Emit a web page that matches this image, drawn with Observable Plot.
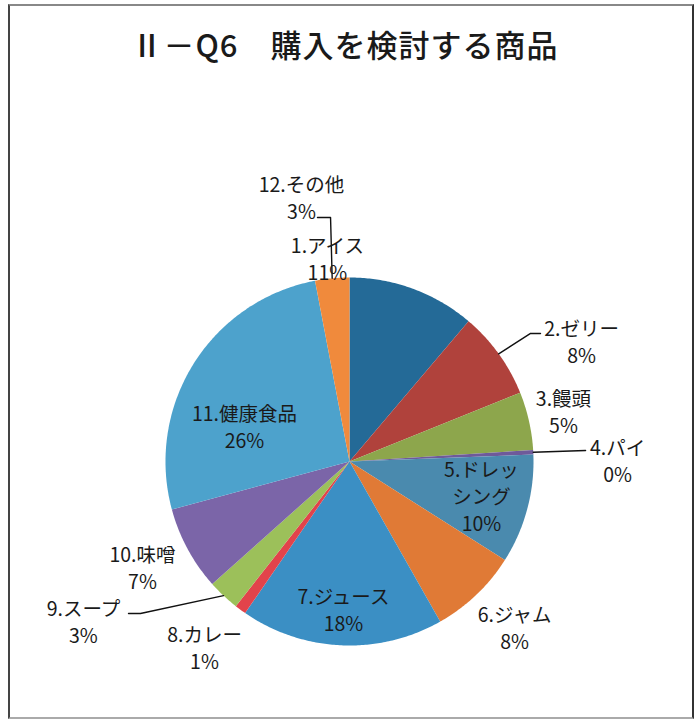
<!DOCTYPE html>
<html><head><meta charset="utf-8">
<script src="https://cdn.jsdelivr.net/npm/d3@7"></script>
<script src="https://cdn.jsdelivr.net/npm/@observablehq/plot@0.6"></script>
<style>
body{margin:0;background:#fff;}
#wrap{position:relative;width:696px;height:720px;overflow:hidden;font-family:"Noto Sans CJK JP",sans-serif;}
#wrap svg{position:absolute;left:0;top:0;}
#frame{position:absolute;left:8px;top:4px;width:682px;height:711px;border-left:2px solid #444;border-right:2px solid #333;border-top:2px solid #888;border-bottom:2px solid #aaa;pointer-events:none}
#title{position:absolute;top:23px;left:0;width:690px;text-align:center;font-size:31px;font-weight:500;color:#1a1a1a;line-height:42px;letter-spacing:1px}
</style></head>
<body><div id="wrap"></div>
<script>
// ---- data ----
const names = ["1.アイス","2.ゼリー","3.饅頭","4.パイ","5.ドレッシング","6.ジャム","7.ジュース","8.カレー","9.スープ","10.味噌","11.健康食品","12.その他"];
const values = [11.2, 7.7, 5.1, 0.4, 9.6, 7.8, 17.8, 1.0, 2.8, 7.4, 26.2, 3.0];
const labelNames = ["1.アイス","2.ゼリー","3.饅頭","4.パイ","5.ドレッ\nシング","6.ジャム","7.ジュース","8.カレー","9.スープ","10.味噌","11.健康食品","12.その他"];
const colors = ["#246a97","#b0423c","#8da64c","#6e5a9a","#4a8aae","#e07a36","#3b8fc4","#e2434b","#9cc05a","#7b65a8","#4da2cc","#f08a3c"];
const title = "Ⅱ－Q6　購入を検討する商品";

// ---- layout (label anchors in pie-radius units, leader-line elbows) ----
const labelPos = [[-0.120,1.106],[1.261,0.655],[1.163,0.277],[1.457,0.008],[0.717,-0.185],[0.897,-0.899],[-0.033,-0.802],[-0.788,-1.008],[-1.446,-0.867],[-1.125,-0.573],[-0.571,0.196],[-0.261,1.437]];
const leaders = {1:[[1.038,0.696],[0.984,0.696]], 3:[[1.283,0.060]], 8:[[-1.201,-0.826],[-1.136,-0.826]], 11:[[-0.174,1.326],[-0.103,1.326]]};

const data = names.map((n,i)=>({name:n, value:values[i]}));
const arcs = d3.pie().sort(null).value(d=>d.value).startAngle(0).endAngle(2*Math.PI)(data);

const polys = [];
arcs.forEach(p=>{
  const n = Math.max(2, Math.ceil((p.endAngle-p.startAngle)/0.01));
  polys.push({name:p.data.name, x:0, y:0});
  for(let i=0;i<=n;i++){
    const a = p.startAngle+(p.endAngle-p.startAngle)*i/n;
    polys.push({name:p.data.name, x:Math.sin(a), y:Math.cos(a)});
  }
  polys.push({name:p.data.name, x:0, y:0});
});

const labels = arcs.map((p,i)=>({x:labelPos[i][0], y:labelPos[i][1], text:labelNames[i]+"\n"+Math.round(p.data.value)+"%"}));

const leaderPts = [];
Object.entries(leaders).forEach(([k,pts])=>{
  const p = arcs[+k]; const m = (p.startAngle+p.endAngle)/2;
  pts.forEach(q=>leaderPts.push({id:k, x:q[0], y:q[1]}));
  leaderPts.push({id:k, x:Math.sin(m), y:Math.cos(m)});
});

const chart = Plot.plot({
  width:696, height:720,
  marginLeft:165, marginRight:163, marginTop:277, marginBottom:75,
  x:{domain:[-1,1], axis:null},
  y:{domain:[-1,1], axis:null},
  color:{domain:names, range:colors},
  style:{fontFamily:'"Noto Sans CJK JP", sans-serif', background:"transparent"},
  marks:[
    Plot.line(polys, {x:"x", y:"y", z:"name", fill:"name", stroke:"none", curve:"linear"}),
    Plot.line(leaderPts, {x:"x", y:"y", z:"id", stroke:"#111", strokeWidth:1.4}),
    Plot.text(labels, {x:"x", y:"y", text:"text", fontSize:19.5, lineHeight:1.385, fill:"#1a1a1a", textAnchor:"middle"})
  ]
});
const wrap = document.getElementById("wrap");
wrap.appendChild(chart);
const t = document.createElement("div"); t.id="title"; t.textContent=title; wrap.appendChild(t);
const f = document.createElement("div"); f.id="frame"; wrap.appendChild(f);
</script>
</body></html>
